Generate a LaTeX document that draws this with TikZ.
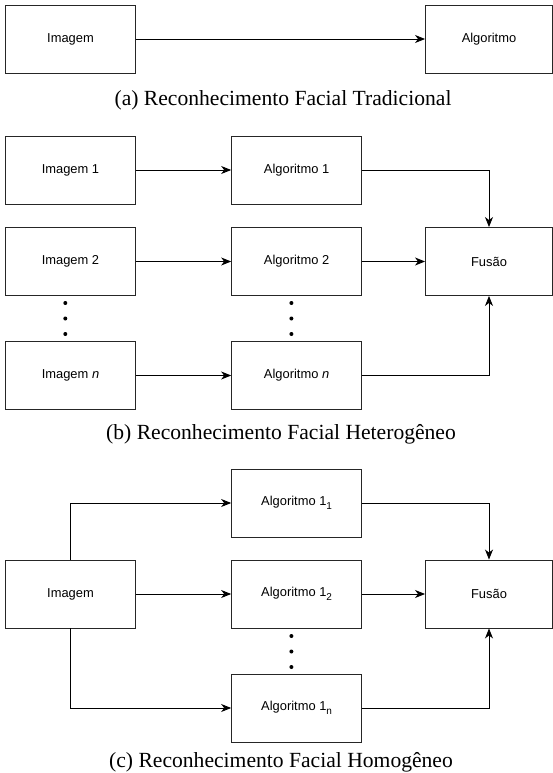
\documentclass[tikz,border=0pt]{standalone}
\usepackage{fontspec}
\setmainfont{Liberation Serif}
\setsansfont{Liberation Sans}
\usetikzlibrary{arrows.meta}
\newcommand{\subidx}[1]{\raisebox{-0.28em}{\fontsize{10}{11}\selectfont #1}}
\tikzset{
  box/.style={draw=black!85, line width=0.9pt, minimum width=130pt, minimum height=68pt,
    inner sep=0pt, font=\fontsize{12.9}{15}\selectfont\sffamily},
  rbox/.style={box, minimum width=127pt},
  dot/.style={circle, fill=black, inner sep=0pt, minimum size=4pt},
  caption/.style={font=\fontsize{21.6}{25}\selectfont}
}
\begin{document}
\begin{tikzpicture}[x=1pt, y=-1pt, line width=0.9pt,
    >={Stealth[length=10pt, width=8pt, inset=3pt]}]
  \useasboundingbox (0,0) rectangle (553,773);
  % (a) tradicional
  \draw
    (70.5,39) node[box] (img){Imagem}
    (489,39) node[rbox] (alg){Algoritmo}
    (283,100) node[caption] (capa){(a) Reconhecimento Facial Tradicional};
  \begin{scope}[->]
    \draw (img) to (alg);
  \end{scope}
  % (b) heterogeneo
  \draw
    (70.5,170) node[box] (imgA){Imagem 1}
    (70.5,261.5) node[box] (imgB){Imagem 2}
    (70.5,375.5) node[box] (imgN){Imagem \textit{n}}
    (296.6,170) node[box] (algA){Algoritmo 1}
    (296.6,261.5) node[box] (algB){Algoritmo 2}
    (296.6,375.5) node[box] (algN){Algoritmo \textit{n}}
    (489,261.5) node[rbox] (fusB){Fusão}
    (65.3,303) node[dot] (dA1){}
    (65.3,318.5) node[dot] (dA2){}
    (65.3,334) node[dot] (dA3){}
    (291.4,303) node[dot] (dB1){}
    (291.4,318.5) node[dot] (dB2){}
    (291.4,334) node[dot] (dB3){}
    (281,434) node[caption] (capb){(b) Reconhecimento Facial Heterogêneo};
  \begin{scope}[->]
    \draw (imgA) to (algA);
    \draw (imgB) to (algB);
    \draw (imgN) to (algN);
    \draw (algB) to (fusB);
    \draw (algA) -| (fusB);
    \draw (algN) -| (fusB);
  \end{scope}
  % (c) homogeneo
  \draw
    (70.5,594) node[box] (imgC){Imagem}
    (296.6,503) node[box] (algC1){Algoritmo 1\subidx{1}}
    (296.6,594) node[box] (algC2){Algoritmo 1\subidx{2}}
    (296.6,708) node[box] (algCn){Algoritmo 1\subidx{n}}
    (489,594) node[rbox] (fusC){Fusão}
    (291.4,636) node[dot] (dC1){}
    (291.4,651.5) node[dot] (dC2){}
    (291.4,667) node[dot] (dC3){}
    (281,762) node[caption] (capc){(c) Reconhecimento Facial Homogêneo};
  \begin{scope}[->]
    \draw (imgC.north) |- (algC1);
    \draw (imgC) to (algC2);
    \draw (imgC.south) |- (algCn);
    \draw (algC2) to (fusC);
    \draw (algC1) -| (fusC);
    \draw (algCn) -| (fusC);
  \end{scope}
\end{tikzpicture}
\end{document}
